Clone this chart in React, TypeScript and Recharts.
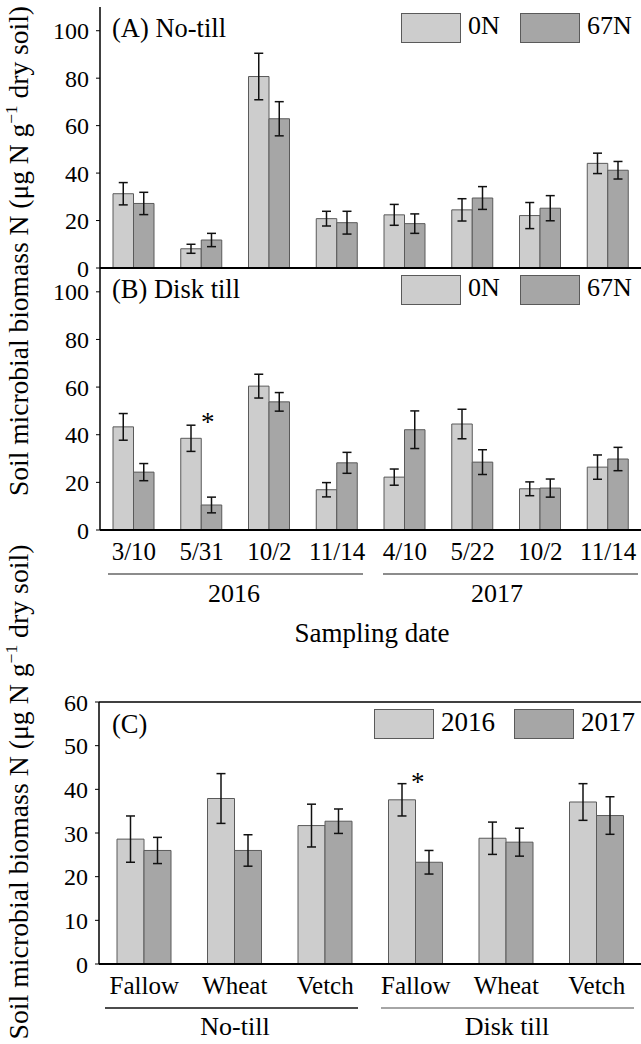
import React from 'react';
import { BarChart, Bar, XAxis, YAxis, ErrorBar, CartesianGrid, ReferenceDot, Legend } from 'recharts';

const SERIF = '"Liberation Serif", "Times New Roman", serif';

// Panels A & B: sampling dates
const years = ['2016', '2016', '2016', '2016', '2017', '2017', '2017', '2017'];
const dates = ['3/10', '5/31', '10/2', '11/14', '4/10', '5/22', '10/2', '11/14'];
const nitrogenSeries = ['0N', '67N'];
const yTicksAB = [0, 20, 40, 60, 80, 100];

const noTill0N = [31.3, 8.1, 80.7, 20.8, 22.4, 24.5, 22.1, 44.1];
const noTill0NErr = [4.7, 1.9, 9.8, 3.1, 4.4, 4.7, 5.5, 4.3];
const noTill67N = [27.2, 11.8, 62.9, 19.1, 18.7, 29.5, 25.2, 41.2];
const noTill67NErr = [4.7, 2.8, 7.2, 4.8, 4.1, 4.8, 5.3, 3.7];

const disk0N = [43.3, 38.5, 60.4, 16.9, 22.2, 44.5, 17.3, 26.4];
const disk0NErr = [5.6, 5.5, 5.0, 3.0, 3.4, 6.2, 2.9, 5.1];
const disk67N = [24.3, 10.5, 53.8, 28.2, 42.1, 28.5, 17.6, 29.8];
const disk67NErr = [3.6, 3.3, 3.9, 4.4, 7.9, 5.2, 3.8, 4.9];

// Panel C: crops by tillage
const tillages = ['No-till', 'No-till', 'No-till', 'Disk till', 'Disk till', 'Disk till'];
const crops = ['Fallow', 'Wheat', 'Vetch', 'Fallow', 'Wheat', 'Vetch'];
const yearSeries = ['2016', '2017'];
const yTicksC = [0, 10, 20, 30, 40, 50, 60];
const crop2016 = [28.6, 37.9, 31.7, 37.6, 28.8, 37.1];
const crop2016Err = [5.3, 5.7, 4.9, 3.7, 3.7, 4.2];
const crop2017 = [26.0, 26.0, 32.7, 23.3, 27.9, 34.0];
const crop2017Err = [3.0, 3.6, 2.8, 2.7, 3.2, 4.3];

const LIGHT = '#cdcdcd';
const DARK = '#a6a6a6';
const EDGE = '#5a5a5a';

const dataA = dates.map((d, i) => ({ key: `${years[i]}|${d}`, a: noTill0N[i], ae: noTill0NErr[i], b: noTill67N[i], be: noTill67NErr[i] }));
const dataB = dates.map((d, i) => ({ key: `${years[i]}|${d}`, a: disk0N[i], ae: disk0NErr[i], b: disk67N[i], be: disk67NErr[i] }));
const dataC = crops.map((c, i) => ({ key: `${tillages[i]}|${c}`, a: crop2016[i], ae: crop2016Err[i], b: crop2017[i], be: crop2017Err[i] }));

const labelOf = (v: string) => String(v).split('|')[1];

const makeLegend = (fontSize: number, itemW: number, boxW: number, boxH: number) => (props: any) => {
  const payload = props.payload || [];
  return (
    <div style={{ display: 'flex', alignItems: 'center', fontFamily: SERIF, fontSize, color: '#000' }}>
      {payload.map((p: any, i: number) => (
        <div key={i} style={{ display: 'flex', alignItems: 'center', width: i < payload.length - 1 ? itemW : undefined }}>
          <div style={{ width: boxW, height: boxH, background: p.color, border: `1px solid ${EDGE}`, boxSizing: 'border-box' }} />
          <span style={{ marginLeft: 7, lineHeight: 1, marginTop: -4 }}>{p.value}</span>
        </div>
      ))}
    </div>
  );
};

const Star = (dx: number, dy: number, fs: number) => (props: any) => (
  <text x={props.cx + dx} y={props.cy + dy} textAnchor="middle" fontSize={fs} fontFamily={SERIF} fill="#000">*</text>
);

const errProps = { width: 4.5, strokeWidth: 1.5, stroke: '#111' };

export default function App() {
  const tickY = { fill: '#000', fontSize: 24, fontFamily: SERIF };
  const tickX = { fill: '#000', fontSize: 25, fontFamily: SERIF };
  return (
    <div style={{ position: 'absolute', left: 0, top: 0, width: 641, height: 1044, overflow: 'hidden', background: '#fff' }}>
      {/* Panel A */}
      <div style={{ position: 'absolute', left: 0, top: 0 }}>
        <BarChart width={643} height={290} data={dataA} margin={{ top: 7, right: 1, bottom: 20, left: 0 }} barGap={0}>
          <CartesianGrid vertical={false} horizontalValues={[110]} stroke="#000" strokeWidth={1.5} strokeDasharray="" />
          <XAxis dataKey="key" tick={false} tickLine={false} height={2} axisLine={{ stroke: '#000', strokeWidth: 2 }} />
          <YAxis domain={[0, 110]} ticks={yTicksAB} width={100} tick={tickY} tickSize={4} tickMargin={7} axisLine={{ stroke: '#000', strokeWidth: 1.5 }} tickLine={{ stroke: '#000' }} />
          <Legend verticalAlign="middle" align="center" layout="horizontal" content={makeLegend(26, 119, 60, 30)} wrapperStyle={{ top: 13, left: 401, width: 'auto' }} />
          <Bar dataKey="a" name={nitrogenSeries[0]} fill={LIGHT} stroke={EDGE} strokeWidth={1} barSize={20.5} isAnimationActive={false}>
            <ErrorBar dataKey="ae" {...errProps} />
          </Bar>
          <Bar dataKey="b" name={nitrogenSeries[1]} fill={DARK} stroke={EDGE} strokeWidth={1} barSize={20.5} isAnimationActive={false}>
            <ErrorBar dataKey="be" {...errProps} />
          </Bar>
        </BarChart>
      </div>
      {/* Panel B */}
      <div style={{ position: 'absolute', left: 0, top: 250 }}>
        <BarChart width={643} height={330} data={dataB} margin={{ top: 18, right: 1, bottom: 10, left: 0 }} barGap={0}>
          <XAxis dataKey="key" tickFormatter={labelOf} tick={tickX} tickLine={false} tickSize={0} tickMargin={12} height={40} interval={0} axisLine={{ stroke: '#000', strokeWidth: 2 }} />
          <YAxis domain={[0, 110]} ticks={yTicksAB} width={100} tick={tickY} tickSize={4} tickMargin={7} axisLine={{ stroke: '#000', strokeWidth: 1.5 }} tickLine={{ stroke: '#000' }} />
          <Legend verticalAlign="middle" align="center" layout="horizontal" content={makeLegend(26, 119, 60, 30)} wrapperStyle={{ top: 25, left: 401, width: 'auto' }} />
          <Bar dataKey="a" name={nitrogenSeries[0]} fill={LIGHT} stroke={EDGE} strokeWidth={1} barSize={20.5} isAnimationActive={false}>
            <ErrorBar dataKey="ae" {...errProps} />
          </Bar>
          <Bar dataKey="b" name={nitrogenSeries[1]} fill={DARK} stroke={EDGE} strokeWidth={1} barSize={20.5} isAnimationActive={false}>
            <ErrorBar dataKey="be" {...errProps} />
          </Bar>
          <ReferenceDot x="2016|5/31" y={47} r={0} shape={Star(6, 13, 27)} />
        </BarChart>
      </div>
      {/* Panel C */}
      <div style={{ position: 'absolute', left: 0, top: 680 }}>
        <BarChart width={643} height={364} data={dataC} margin={{ top: 22, right: 1, bottom: 30, left: 0 }} barGap={0}>
          <CartesianGrid vertical={false} horizontalValues={[60]} stroke="#000" strokeWidth={1.5} strokeDasharray="" />
          <XAxis dataKey="key" tickFormatter={labelOf} tick={tickX} tickLine={false} tickSize={0} tickMargin={12} height={50} interval={0} axisLine={{ stroke: '#000', strokeWidth: 2 }} />
          <YAxis domain={[0, 60]} ticks={yTicksC} width={99} tick={tickY} tickSize={4} tickMargin={7} axisLine={{ stroke: '#000', strokeWidth: 1.5 }} tickLine={{ stroke: '#000' }} />
          <Legend verticalAlign="middle" align="center" layout="horizontal" content={makeLegend(27, 140, 60, 30)} wrapperStyle={{ top: 29, left: 374, width: 'auto' }} />
          <Bar dataKey="a" name={yearSeries[0]} fill={LIGHT} stroke={EDGE} strokeWidth={1} barSize={27} isAnimationActive={false}>
            <ErrorBar dataKey="ae" {...errProps} />
          </Bar>
          <Bar dataKey="b" name={yearSeries[1]} fill={DARK} stroke={EDGE} strokeWidth={1} barSize={27} isAnimationActive={false}>
            <ErrorBar dataKey="be" {...errProps} />
          </Bar>
          <ReferenceDot x="Disk till|Fallow" y={42.6} r={0} shape={Star(2, 13, 27)} />
        </BarChart>
      </div>
      {/* Annotations */}
      <svg width={641} height={1044} style={{ position: 'absolute', left: 0, top: 0, pointerEvents: 'none' }} fontFamily={SERIF} fill="#000">
        <text x={112} y={37} fontSize={26.5}>(A) No-till</text>
        <text x={112} y={298} fontSize={26.5}>(B) Disk till</text>
        <text x={112} y={733} fontSize={26.5}>(C)</text>
        <line x1={108} x2={363} y1={574} y2={574} stroke="#666" strokeWidth={1.5} />
        <line x1={383} x2={638} y1={574} y2={574} stroke="#666" strokeWidth={1.5} />
        <text x={234} y={602} fontSize={26} textAnchor="middle">2016</text>
        <text x={497} y={602} fontSize={26} textAnchor="middle">2017</text>
        <text x={372} y={642} fontSize={27} textAnchor="middle">Sampling date</text>
        <line x1={105} x2={358} y1={1008} y2={1008} stroke="#111" strokeWidth={1.5} />
        <line x1={381} x2={634} y1={1008} y2={1008} stroke="#888" strokeWidth={1.5} />
        <text x={235} y={1035} fontSize={26} textAnchor="middle">No-till</text>
        <text x={507} y={1035} fontSize={26} textAnchor="middle">Disk till</text>
        <text transform="translate(28,251) rotate(-90)" fontSize={27} textAnchor="middle" textLength={490} lengthAdjust="spacingAndGlyphs">
          Soil microbial biomass N (μg N g<tspan dy={-11} fontSize={17}>−1</tspan><tspan dy={11}> dry soil)</tspan>
        </text>
        <text transform="translate(28,792) rotate(-90)" fontSize={27} textAnchor="middle" textLength={495} lengthAdjust="spacingAndGlyphs">
          Soil microbial biomass N (μg N g<tspan dy={-11} fontSize={17}>−1</tspan><tspan dy={11}> dry soil)</tspan>
        </text>
      </svg>
    </div>
  );
}
